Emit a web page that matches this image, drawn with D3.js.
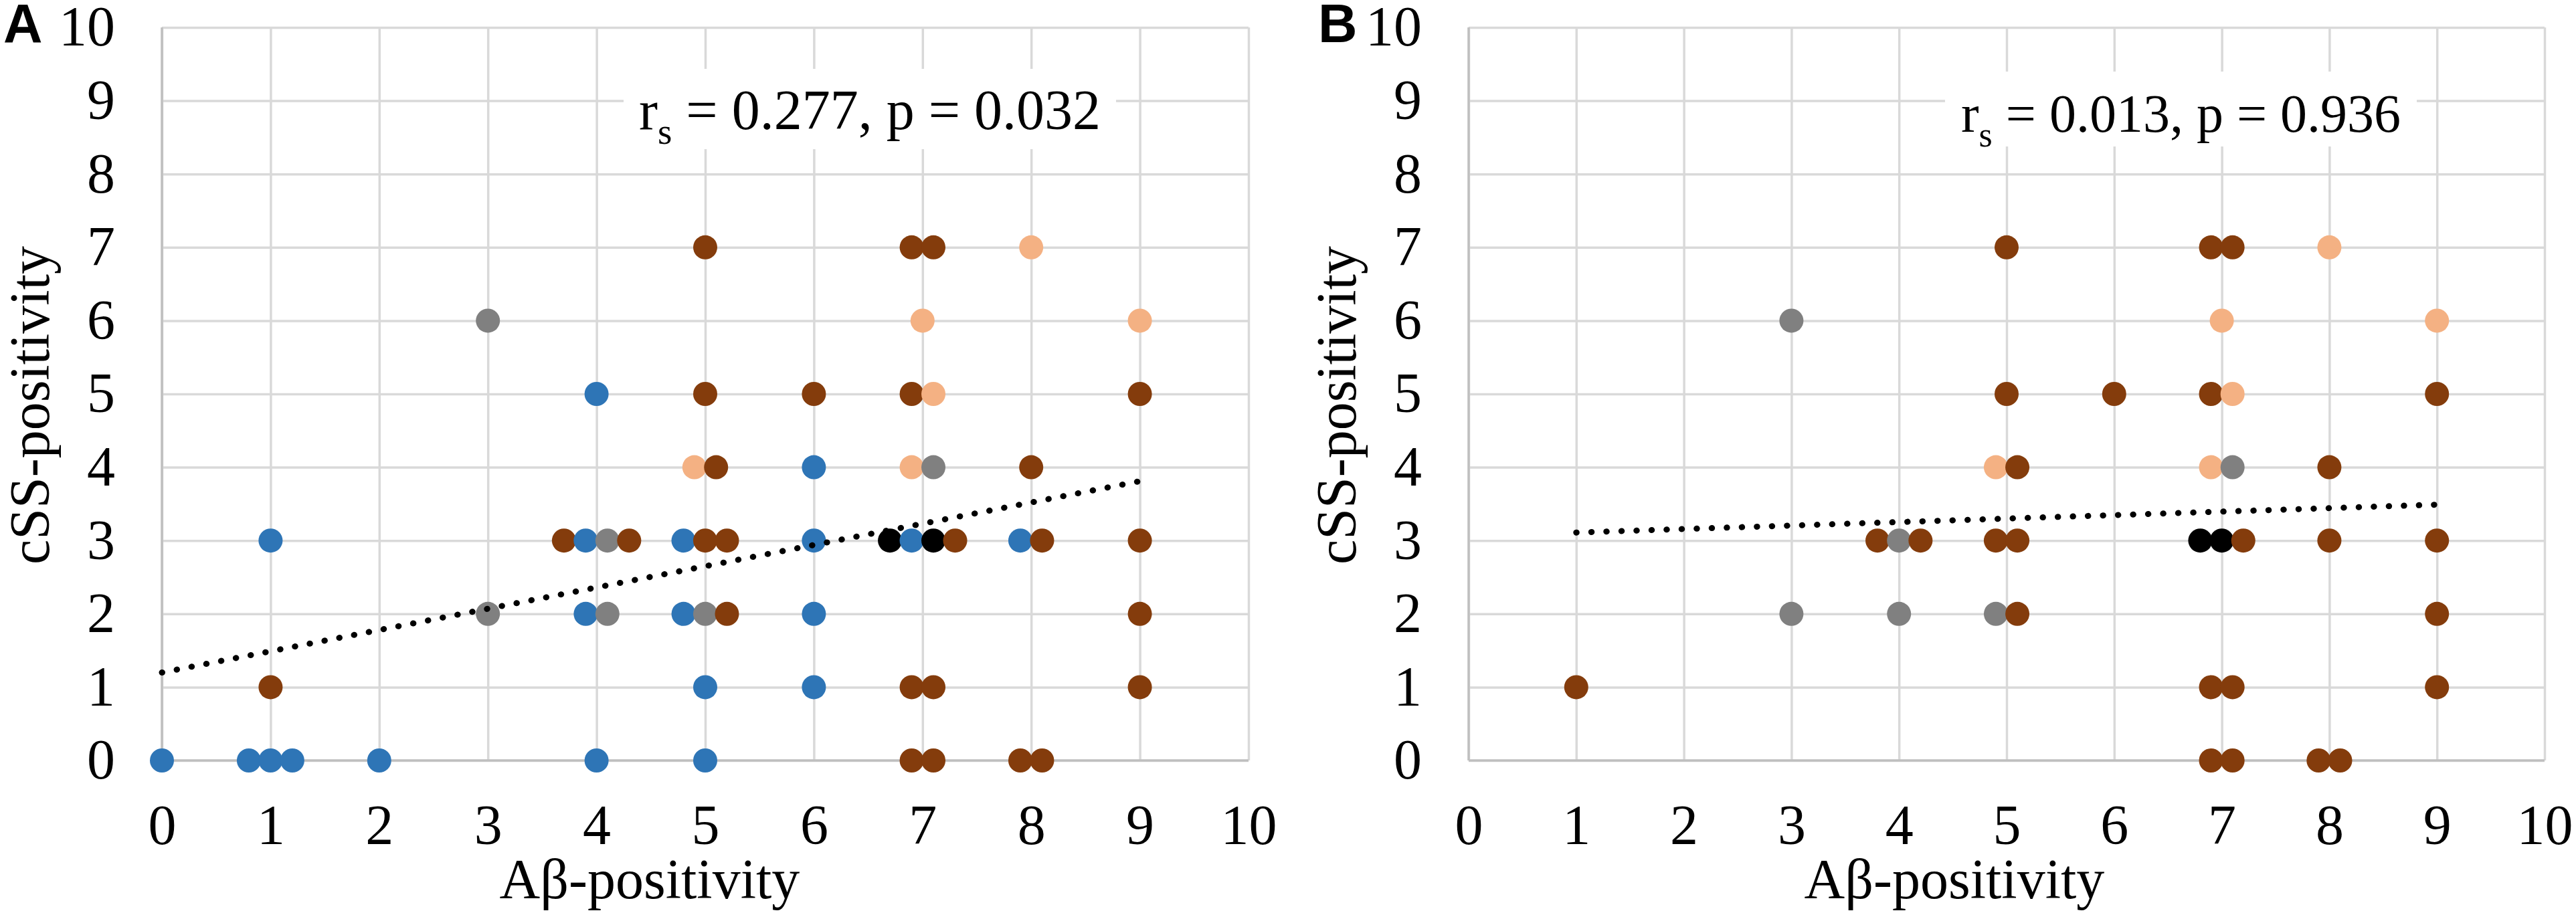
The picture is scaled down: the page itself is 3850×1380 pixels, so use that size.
<!DOCTYPE html>
<html>
<head>
<meta charset="utf-8">
<script src="https://cdn.jsdelivr.net/npm/d3@7"></script>
<style>
  body { margin: 0; background: #fff; }
  svg { display: block; }
  .tick text { font-family: "Liberation Serif", "Times New Roman", serif; fill: #000; }
</style>
</head>
<body>
<div id="chart"></div>
<script>
// tick labels shared by both axes of both panels
const tickValues = [0, 1, 2, 3, 4, 5, 6, 7, 8, 9, 10];

// panel A: all subjects, [Abeta-positivity, cSS-positivity]
const aBlue = [[0, 0], [0.8, 0], [1, 0], [1.2, 0], [2, 0], [4, 0], [5, 0], [1, 3], [3.9, 3], [3.9, 2],
    [4, 5], [4.8, 3], [4.8, 2], [5, 1], [6, 4], [6, 3], [6, 2], [6, 1], [6.9, 3], [7.9, 3]];
const aBrown = [[1, 1], [3.7, 3], [4.3, 3], [5, 7], [6.9, 7], [7.1, 7], [5, 5], [6, 5], [6.9, 5], [9, 5],
    [5.1, 4], [8, 4], [5, 3], [5.2, 3], [7.3, 3], [8.1, 3], [9, 3], [5.2, 2], [9, 2],
    [6.9, 1], [7.1, 1], [9, 1], [6.9, 0], [7.1, 0], [7.9, 0], [8.1, 0]];
const aPeach = [[8, 7], [7, 6], [9, 6], [7.1, 5], [4.9, 4], [6.9, 4]];
const aGray = [[3, 6], [3, 2], [4.1, 3], [4.1, 2], [5, 2], [7.1, 4]];
const aBlack = [[6.7, 3], [7.1, 3]];
const aTrend = [[0, 1.2], [9, 3.81]];
const aStat = { r: '0.277', p: '0.032' };

// panel B
const bBrown = [[1, 1], [3.8, 3], [4.2, 3], [5, 7], [6.9, 7], [7.1, 7], [5, 5], [6, 5], [6.9, 5], [9, 5],
    [5.1, 4], [8, 4], [4.9, 3], [5.1, 3], [7.2, 3], [8, 3], [9, 3], [5.1, 2], [9, 2],
    [6.9, 1], [7.1, 1], [9, 1], [6.9, 0], [7.1, 0], [7.9, 0], [8.1, 0]];
const bPeach = [[8, 7], [7, 6], [9, 6], [7.1, 5], [4.9, 4], [6.9, 4]];
const bGray = [[3, 6], [3, 2], [4, 3], [4, 2], [4.9, 2], [7.1, 4]];
const bBlack = [[6.8, 3], [7, 3]];
const bTrend = [[1, 3.11], [9, 3.49]];
const bStat = { r: '0.013', p: '0.936' };

const colors = { blue: '#2E75B6', brown: '#843C0C', peach: '#F4B183', gray: '#808080', black: '#000000' };

const panels = [
    {
        label: 'A', left: 242, right: 1866, series: [['blue', aBlue], ['brown', aBrown], ['peach', aPeach], ['gray', aGray], ['black', aBlack]],
        trend: aTrend, stat: aStat, box: { x: 932, y: 103, w: 736, h: 120 }, statSize: 84, titleX: 971, labelX: 5
    },
    {
        label: 'B', left: 2195, right: 3803, series: [['brown', bBrown], ['peach', bPeach], ['gray', bGray], ['black', bBlack]],
        trend: bTrend, stat: bStat, box: { x: 2907, y: 107, w: 705, h: 112 }, statSize: 80, titleX: 2921, labelX: 1970
    }
];

const W = 3850, H = 1380;
const plotTop = 41, plotBottom = 1137;
const serif = '"Liberation Serif", "Times New Roman", serif';
const fontSize = 84;

const svg = d3.select('#chart').append('svg')
    .attr('width', W)
    .attr('height', H);
svg.append('rect').attr('width', W).attr('height', H).attr('fill', '#fff');

panels.forEach(function(p) {
    const x = d3.scaleLinear().domain([0, 10]).range([p.left, p.right]);
    const y = d3.scaleLinear().domain([0, 10]).range([plotBottom, plotTop]);
    const g = svg.append('g');

    // grid + tick labels
    const yAxis = g.append('g')
        .attr('transform', 'translate(' + p.left + ',0)')
        .call(d3.axisLeft(y).tickValues(tickValues).tickSize(-(p.right - p.left)).tickPadding(70));
    const xAxis = g.append('g')
        .attr('transform', 'translate(0,' + plotBottom + ')')
        .call(d3.axisBottom(x).tickValues(tickValues).tickSize(-(plotBottom - plotTop)).tickPadding(65));
    [yAxis, xAxis].forEach(function(a) {
        a.select('.domain').remove();
        a.selectAll('.tick line').attr('stroke', '#D9D9D9').attr('stroke-width', 3.5);
        a.selectAll('.tick text').style('font-size', fontSize + 'px');
    });
    // axis lines
    g.append('line').attr('x1', x(0)).attr('x2', x(10)).attr('y1', y(0)).attr('y2', y(0))
        .attr('stroke', '#BFBFBF').attr('stroke-width', 3.5);
    g.append('line').attr('x1', x(0)).attr('x2', x(0)).attr('y1', y(0)).attr('y2', y(10))
        .attr('stroke', '#BFBFBF').attr('stroke-width', 3.5);

    // statistics label on a white box
    g.append('rect')
        .attr('x', p.box.x).attr('y', p.box.y)
        .attr('width', p.box.w).attr('height', p.box.h)
        .attr('fill', '#fff');
    const stat = g.append('text')
        .attr('x', p.box.x + p.box.w / 2)
        .attr('y', p.box.y + 90)
        .attr('text-anchor', 'middle')
        .style('font-family', serif)
        .style('font-size', p.statSize + 'px');
    stat.append('tspan').text('r');
    stat.append('tspan').text('s').attr('dy', 22).style('font-size', Math.round(p.statSize * 0.65) + 'px');
    stat.append('tspan').text(' = ' + p.stat.r + ', p = ' + p.stat.p).attr('dy', -22);

    // points, drawn left to right so right-hand neighbours overlap
    const points = [];
    p.series.forEach(function(s) {
        s[1].forEach(function(d) { points.push({ x: d[0], y: d[1], color: colors[s[0]] }); });
    });
    points.sort(function(a, b) { return a.x - b.x; });
    g.append('g')
        .selectAll('circle').data(points)
        .enter()
        .append('circle')
        .attr('cx', d => x(d.x))
        .attr('cy', d => y(d.y))
        .attr('r', 18)
        .attr('fill', d => d.color);

    // linear trend line
    g.append('path')
        .datum(p.trend)
        .attr('d', d3.line().x(d => x(d[0])).y(d => y(d[1])))
        .attr('fill', 'none')
        .attr('stroke', '#000')
        .attr('stroke-width', 9)
        .attr('stroke-linecap', 'round')
        .attr('stroke-dasharray', '0.5 22');

    // axis titles
    g.append('text')
        .attr('x', p.titleX)
        .attr('y', 1343)
        .attr('text-anchor', 'middle')
        .style('font-family', serif)
        .style('font-size', fontSize + 'px')
        .text('Aβ-positivity');
    g.append('text')
        .attr('transform', 'translate(' + (p.left - 169) + ',606) rotate(-90)')
        .attr('text-anchor', 'middle')
        .style('font-family', serif)
        .style('font-size', fontSize + 'px')
        .text('cSS-positivity');

    // panel letter
    g.append('text')
        .attr('x', p.labelX)
        .attr('y', 63)
        .style('font-family', '"Liberation Sans", Arial, sans-serif')
        .style('font-weight', 'bold')
        .style('font-size', '81px')
        .text(p.label);
});
</script>
</body>
</html>
